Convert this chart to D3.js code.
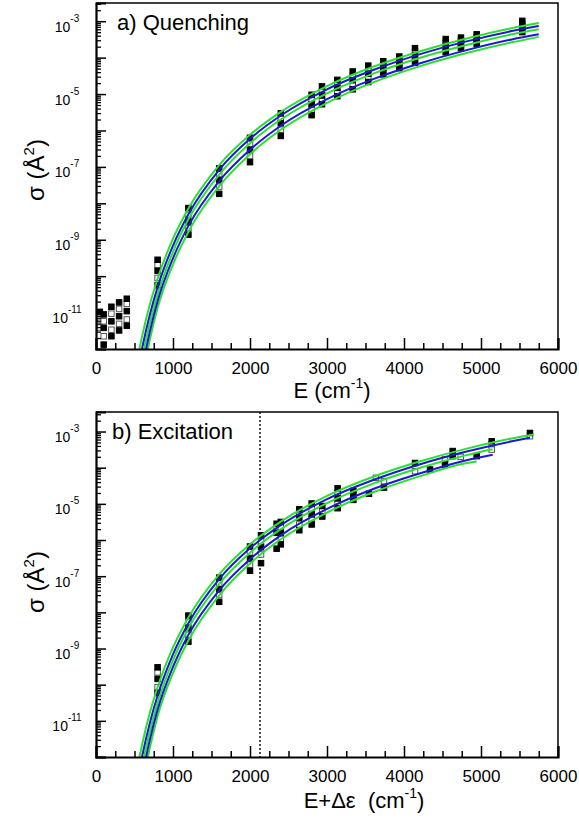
<!DOCTYPE html>
<html>
<head>
<meta charset="utf-8">
<script src="https://cdn.jsdelivr.net/npm/d3@7/dist/d3.min.js"></script>
<style>
  body { margin: 0; background: #fff; }
  svg { display: block; }
</style>
</head>
<body>
<svg id="chart" width="579" height="820"></svg>
<script>
// ---- Fitted cross-section curves (log10 sigma in Å^2) on an energy grid (cm^-1) ----
const curveE = [540, 600, 700, 800, 1000, 1200, 1600, 2000, 2400, 3000, 3600, 4200, 4800, 5400, 5750];
const greenUpperLog = [-12.26, -11.64, -10.77, -10.07, -8.97, -8.14, -6.95, -6.12, -5.49, -4.78, -4.25, -3.83, -3.48, -3.19, -3.05];
const blueUpperLog  = [-12.61, -11.97, -11.05, -10.30, -9.16, -8.30, -7.08, -6.23, -5.59, -4.87, -4.34, -3.91, -3.56, -3.27, -3.13];
const greenMidLog   = [-12.91, -12.26, -11.29, -10.50, -9.33, -8.44, -7.21, -6.35, -5.70, -4.98, -4.44, -4.01, -3.66, -3.36, -3.22];
const blueLowerLog  = [-13.21, -12.54, -11.52, -10.69, -9.51, -8.62, -7.39, -6.53, -5.87, -5.14, -4.59, -4.16, -3.80, -3.50, -3.36];
const greenLowerLog = [-13.51, -12.79, -11.74, -10.87, -9.68, -8.78, -7.53, -6.65, -5.98, -5.24, -4.68, -4.24, -3.88, -3.58, -3.43];

// Excitation curves: same grid, each ending at its own energy
// order: green upper, blue upper, green middle, blue lower, green lower
const excEndE   = [5680, 5636, 5150, 5152, 4944];
const excEndLog = [-3.08, -3.17, -3.49, -3.64, -3.83];

// ---- Quenching data: five sets per energy (filled, open, filled, open, filled) ----
const quenchE = [50, 100, 200, 300, 400, 800, 1200, 1600, 2000, 2400, 2800, 2935, 3134, 3334, 3536, 3731, 3939, 4143, 4542, 4740, 4944, 5536];
const quenchSet1 = [-10.98, -11.05, -10.84, -10.72, -10.62, -9.55, -8.13, -7.04, -6.20, -5.53, -5.02, -4.79, -4.61, -4.38, -4.22, -4.10, -3.97, -3.74, -3.49, -3.45, -3.36, -2.99];
const quenchSet2 = [-11.19, -11.24, -11.03, -10.90, -10.76, -9.70, -8.32, -7.20, -6.37, -5.67, -5.15, -4.92, -4.72, -4.50, -4.33, -4.19, -4.05, -3.84, -3.58, -3.52, -3.42, -3.07];
const quenchSet3 = [null, -11.42, -11.24, -11.10, -10.96, -9.85, -8.50, -7.36, -6.53, -5.80, -5.28, -5.04, -4.83, -4.62, -4.44, -4.28, -4.13, -3.94, -3.67, -3.59, -3.49, -3.15];
const quenchSet4 = [-11.41, -11.65, -11.47, -11.31, -11.19, -10.05, -8.68, -7.54, -6.70, -5.98, -5.43, -5.16, -4.95, -4.75, -4.56, -4.37, -4.21, -4.04, -3.76, -3.67, -3.55, -3.22];
const quenchSet5 = [null, -11.88, -11.65, -11.49, -11.36, -10.25, -8.86, -7.74, -6.87, -6.15, -5.58, -5.28, -5.06, -4.87, -4.67, -4.46, -4.29, -4.14, -3.85, -3.74, -3.62, -3.30];

// ---- Excitation data ----
const excE = [800, 1200, 1600, 2000, 2143, 2346, 2400, 2640, 2801, 2939, 3138, 3342, 3545, 3636, 3740, 4143, 4338, 4532, 4632, 4736, 4944, 5139, 5636];
const excSet1 = [-9.52, -8.09, -7.04, -6.18, -5.87, -5.55, -5.50, -5.15, -4.99, -5.06, -4.57, -4.64, -4.72, null, -4.55, -3.87, -4.05, -3.91, -3.54, null, -3.68, -3.27, -3.04];
const excSet2 = [-9.66, -8.26, -7.20, -6.34, -6.03, -5.70, -5.65, -5.27, -5.14, -5.20, -4.71, null, null, -4.28, -4.37, -4.10, null, -3.77, null, -3.70, null, -3.35, -3.13];
const excSet3 = [-9.84, -8.44, -7.36, -6.51, -6.20, -5.80, -5.80, -5.38, -5.29, -5.35, -4.85, -4.76, null, null, null, null, null, null, -3.68, null, null, null, null];
const excSet4 = [-10.07, -8.62, -7.52, -6.68, -6.40, null, -5.97, -5.57, -5.43, null, -4.98, null, null, null, null, null, null, null, null, null, null, -3.50, null];
const excSet5 = [-10.23, -8.81, -7.71, -6.85, -6.64, -6.24, -6.12, -5.73, -5.57, null, -5.12, -4.89, null, null, null, null, null, null, null, null, null, null, null];

const thresholdE = 2130;

const xTickValues = [0, 1000, 2000, 3000, 4000, 5000, 6000];
const yLabelExps = [-3, -5, -7, -9, -11];

// ---------------------------------------------------------------------------
const FONT = '"Liberation Sans", Arial, Helvetica, sans-serif';
const svg = d3.select("#chart").attr("font-family", FONT);
const GREEN = "#2ee02e", BLUE = "#1a1ad0";
const pow10 = v => Math.pow(10, v);

function panel(cfg) {
  const x = d3.scaleLinear().domain([0, 6000]).range([96, 558]);
  const y = d3.scaleLog().domain([1e-12, pow10(cfg.topExp)]).range([cfg.bottom, cfg.top]);
  const g = svg.append("g").attr("font-family", FONT);

  const clipId = "clip-" + cfg.id;
  svg.append("clipPath").attr("id", clipId).append("rect")
    .attr("x", 96).attr("y", cfg.top).attr("width", 462).attr("height", cfg.bottom - cfg.top);

  // frame (top and right)
  g.append("path")
    .attr("d", `M96,${cfg.top}H558V${cfg.bottom}`)
    .attr("fill", "none").attr("stroke", "#000").attr("stroke-width", 1.5);

  const plot = g.append("g").attr("clip-path", `url(#${clipId})`);

  // vertical marker
  if (cfg.marker != null) {
    plot.append("line")
      .attr("x1", x(cfg.marker)).attr("x2", x(cfg.marker))
      .attr("y1", cfg.top).attr("y2", cfg.bottom)
      .attr("stroke", "#000").attr("stroke-width", 1.4).attr("stroke-dasharray", "2,2");
  }

  // data squares: open sets first, filled on top
  const S = 5.5;
  const sets = [
    { v: cfg.sets[1], fill: "#fff", stroke: "#555" },
    { v: cfg.sets[3], fill: "#fff", stroke: "#555" },
    { v: cfg.sets[0], fill: "#000", stroke: "#000" },
    { v: cfg.sets[2], fill: "#000", stroke: "#000" },
    { v: cfg.sets[4], fill: "#000", stroke: "#000" }
  ];
  sets.forEach(s => {
    const pts = cfg.E.map((e, i) => ({ e, v: s.v[i] })).filter(d => d.v != null);
    plot.append("g").selectAll("rect").data(pts).join("rect")
      .attr("x", d => x(d.e) - S / 2).attr("y", d => y(pow10(d.v)) - S / 2)
      .attr("width", S).attr("height", S)
      .attr("fill", s.fill).attr("stroke", s.stroke).attr("stroke-width", 1);
  });

  // fitted curves
  const line = d3.line().x(d => x(d[0])).y(d => y(pow10(d[1]))).curve(d3.curveMonotoneX);
  cfg.curves.forEach(c => {
    plot.append("path").datum(c.pts).attr("d", line)
      .attr("fill", "none").attr("stroke", c.color).attr("stroke-width", 2);
  });

  // x axis
  const xMinor = d3.range(0, 6001, 250).filter(v => v % 1000 !== 0);
  g.append("g").attr("transform", `translate(0,${cfg.bottom})`)
    .call(d3.axisBottom(x).tickValues(xMinor).tickSize(-6).tickFormat(""))
    .call(a => a.select(".domain").remove())
    .call(a => a.selectAll("line").attr("stroke-width", 1.5));
  g.append("g").attr("transform", `translate(0,${cfg.bottom})`)
    .call(d3.axisBottom(x).tickValues(xTickValues).tickSize(-11).tickPadding(13).tickFormat(d3.format("d")))
    .call(a => a.attr("font-family", FONT).attr("font-size", 17))
    .call(a => a.select(".domain").attr("stroke-width", 2.2))
    .call(a => a.selectAll("line").attr("stroke-width", 1.5));

  // y axis
  const yMajor = d3.range(-12, Math.floor(cfg.topExp) + 1).map(pow10);
  const yMinor = [];
  for (let k = -12; k <= -3; k++) for (let m = 2; m <= 9; m++) {
    const v = m * pow10(k);
    if (v <= pow10(cfg.topExp)) yMinor.push(v);
  }
  g.append("g").attr("transform", "translate(96,0)")
    .call(d3.axisLeft(y).tickValues(yMinor).tickSize(-5).tickFormat(""))
    .call(a => a.select(".domain").remove())
    .call(a => a.selectAll("line").attr("stroke-width", 1.3));
  g.append("g").attr("transform", "translate(96,0)")
    .call(d3.axisLeft(y).tickValues(yMajor).tickSize(-10).tickFormat(""))
    .call(a => a.select(".domain").attr("stroke-width", 2.2))
    .call(a => a.selectAll("line").attr("stroke-width", 1.5));
  yLabelExps.forEach(k => {
    const t = g.append("text").attr("x", 67).attr("y", y(pow10(k)) + 10.5)
      .attr("text-anchor", "middle").attr("font-size", 14);
    t.append("tspan").text("10");
    t.append("tspan").attr("font-size", 10).attr("dy", -10).text("-" + Math.abs(k));
  });

  // panel title
  g.append("text").attr("x", cfg.titleX).attr("y", cfg.top + 27).attr("font-size", 22).text(cfg.title);

  // axis titles
  const yt = g.append("text")
    .attr("transform", `translate(44,${cfg.yTitleY}) rotate(-90)`)
    .attr("text-anchor", "middle").attr("font-size", 24);
  yt.append("tspan").text("\u03c3 (\u00c5");
  yt.append("tspan").attr("font-size", 15).attr("dy", -10).text("2");
  yt.append("tspan").attr("dy", 10).text(")");

  const xt = g.append("text").attr("x", cfg.xTitleX).attr("y", cfg.xTitleY)
    .attr("text-anchor", "middle").attr("font-size", 22).attr("xml:space", "preserve");
  xt.append("tspan").text(cfg.xTitle);
  xt.append("tspan").attr("font-size", 14).attr("dy", -10).text("-1");
  xt.append("tspan").attr("dy", 10).text(")");
}

const pairs = (E, L) => E.map((e, i) => [e, L[i]]);
const quenchCurves = [
  { color: GREEN, pts: pairs(curveE, greenUpperLog) },
  { color: GREEN, pts: pairs(curveE, greenMidLog) },
  { color: GREEN, pts: pairs(curveE, greenLowerLog) },
  { color: BLUE, pts: pairs(curveE, blueUpperLog) },
  { color: BLUE, pts: pairs(curveE, blueLowerLog) }
];
function truncated(L, k) {
  const pts = pairs(curveE, L).filter(d => d[0] < excEndE[k] - 100);
  pts.push([excEndE[k], excEndLog[k]]);
  return pts;
}
const excCurves = [
  { color: GREEN, pts: truncated(greenUpperLog, 0) },
  { color: GREEN, pts: truncated(greenMidLog, 2) },
  { color: GREEN, pts: truncated(greenLowerLog, 4) },
  { color: BLUE, pts: truncated(blueUpperLog, 1) },
  { color: BLUE, pts: truncated(blueLowerLog, 3) }
];

panel({
  id: "q", top: 3, bottom: 349, topExp: -2.5,
  E: quenchE, sets: [quenchSet1, quenchSet2, quenchSet3, quenchSet4, quenchSet5],
  curves: quenchCurves, marker: null,
  title: "a) Quenching", titleX: 117,
  yTitleY: 170, xTitle: "E (cm", xTitleX: 332, xTitleY: 398
});
panel({
  id: "e", top: 412, bottom: 757, topExp: -2.46,
  E: excE, sets: [excSet1, excSet2, excSet3, excSet4, excSet5],
  curves: excCurves, marker: thresholdE,
  title: "b) Excitation", titleX: 112,
  yTitleY: 582, xTitle: "E+\u0394\u03b5  (cm", xTitleX: 364, xTitleY: 808
});
</script>
</body>
</html>
